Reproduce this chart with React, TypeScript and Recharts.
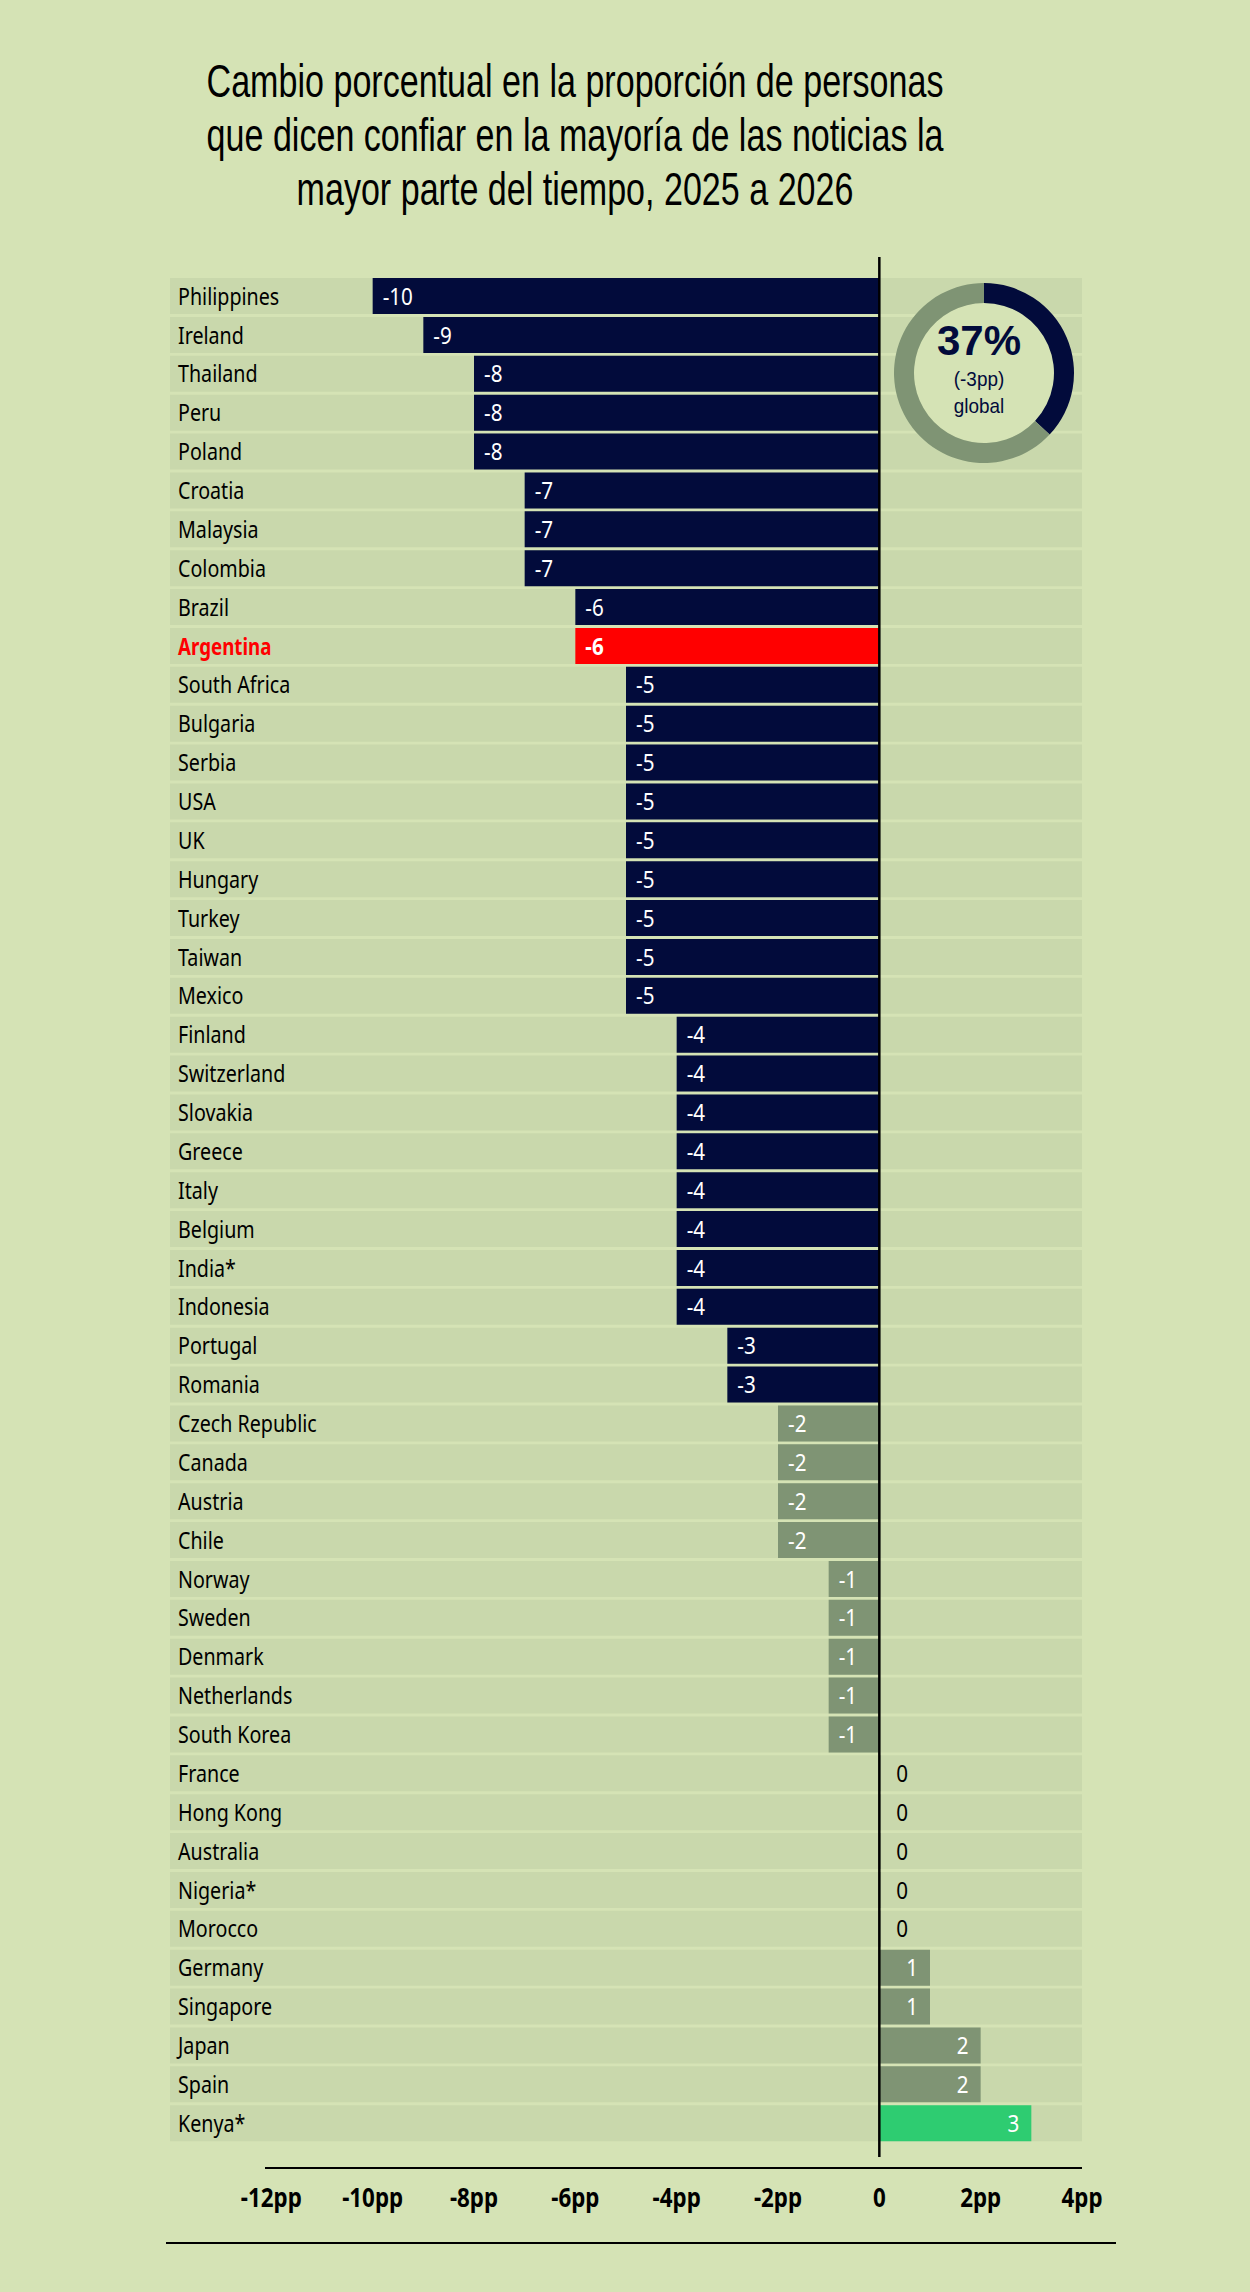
import React from 'react';
import { BarChart, Bar, XAxis, YAxis, Cell, LabelList, ReferenceLine, PieChart, Pie } from 'recharts';

const countries = [
  'Philippines', 'Ireland', 'Thailand', 'Peru', 'Poland', 'Croatia', 'Malaysia', 'Colombia', 'Brazil', 'Argentina',
  'South Africa', 'Bulgaria', 'Serbia', 'USA', 'UK', 'Hungary', 'Turkey', 'Taiwan', 'Mexico',
  'Finland', 'Switzerland', 'Slovakia', 'Greece', 'Italy', 'Belgium', 'India*', 'Indonesia',
  'Portugal', 'Romania', 'Czech Republic', 'Canada', 'Austria', 'Chile',
  'Norway', 'Sweden', 'Denmark', 'Netherlands', 'South Korea',
  'France', 'Hong Kong', 'Australia', 'Nigeria*', 'Morocco',
  'Germany', 'Singapore', 'Japan', 'Spain', 'Kenya*',
];
const changes = [
  -10, -9, -8, -8, -8, -7, -7, -7, -6, -6,
  -5, -5, -5, -5, -5, -5, -5, -5, -5,
  -4, -4, -4, -4, -4, -4, -4, -4,
  -3, -3, -2, -2, -2, -2,
  -1, -1, -1, -1, -1,
  0, 0, 0, 0, 0,
  1, 1, 2, 2, 3,
];
const xTicks = [-12, -10, -8, -6, -4, -2, 0, 2, 4];
const highlight = 'Argentina';
const globalShare = [37, 63];
const globalValue = '37%';
const globalChange = '(-3pp)';
const globalWord = 'global';
const title = [
  'Cambio porcentual en la proporción de personas',
  'que dicen confiar en la mayoría de las noticias la',
  'mayor parte del tiempo, 2025 a 2026',
];

const BG = '#d5e3b5';
const BAND = '#c9d8ac';
const NAVY = '#020b3b';
const GREY = '#7f9474';
const GREEN = '#2ecc71';
const RED = '#ff0000';
const FONT = "'Noto Sans', 'Open Sans', sans-serif";
const TFONT = "'Liberation Sans', Arial, sans-serif";
const MARGIN = { top: 257, right: 168, bottom: 75, left: 170 };

const data = countries.map((c, i) => ({ country: c, value: changes[i] }));
const pieData = globalShare.map((v, i) => ({ name: i === 0 ? 'trust' : 'rest', value: v }));

const colorFor = (c: string, v: number) => {
  if (c === highlight) return RED;
  if (v >= 3) return GREEN;
  if (v <= -3) return NAVY;
  return GREY;
};

const CText = ({ x, y, sx, children, ...rest }: any) => (
  <text transform={`translate(${x} ${y}) scale(${sx} 1)`} x={0} y={0} fontFamily={FONT} {...rest}>{children}</text>
);

const CountryLabel = (props: any) => {
  const { y, height, value } = props;
  const hi = value === highlight;
  return (
    <CText x={MARGIN.left + 8} y={y + height / 2} sx={hi ? 0.78 : 0.82} dy="0.36em" textAnchor="start" fontSize={24}
      fontWeight={hi ? 700 : 400} fill={hi ? RED : '#000'}>{value}</CText>
  );
};

const PPTick = (props: any) => {
  const { x, y, payload } = props;
  const v = payload.value;
  return (
    <CText x={x} y={y + 41} sx={0.86} dy="0.36em" textAnchor="middle" fontSize={26}
      fontWeight={700} fill="#000">{v === 0 ? '0' : `${v}pp`}</CText>
  );
};

const ValueLabel = (props: any) => {
  const { x, y, width, height, value, index } = props;
  const left = Math.min(x, x + width);
  const right = Math.max(x, x + width);
  const hi = countries[index] === highlight;
  let tx = left + 10;
  let anchor = 'start';
  let fill = '#fff';
  if (value > 0) { tx = right - 12; anchor = 'end'; }
  else if (value === 0) { tx = right + 16; fill = '#000'; }
  return (
    <CText x={tx} y={y + height / 2} sx={0.86} dy="0.36em" textAnchor={anchor} fontSize={24}
      fontWeight={hi ? 700 : 400} fill={fill}>{String(value)}</CText>
  );
};

const donutText = (top: number, size: number, weight: number, sx: number, txt: string) => (
  <div style={{ position: 'absolute', left: 879, top, width: 200, textAlign: 'center', fontFamily: TFONT,
    fontSize: size, fontWeight: weight, lineHeight: `${Math.round(size * 1.117)}px`, color: NAVY,
    whiteSpace: 'nowrap', transform: `scaleX(${sx})`, transformOrigin: 'center' }}>{txt}</div>
);

export default function App() {
  return (
    <div style={{ position: 'relative', width: 1250, height: 2292, background: BG, overflow: 'hidden' }}>
      <style>{`body{margin:0;background:${BG};}`}</style>
      <div style={{ position: 'absolute', left: -25, top: 54, width: 1200, textAlign: 'center', fontFamily: TFONT, fontSize: 47, lineHeight: '54px', color: '#000' }}>
        {title.map((t) => (
          <div key={t} style={{ whiteSpace: 'nowrap', transform: 'scaleX(0.725)', transformOrigin: 'center' }}>{t}</div>
        ))}
      </div>
      <div style={{ position: 'absolute', left: 0, top: 0 }}>
        <BarChart width={1250} height={2292} data={data} layout="vertical" margin={MARGIN}>
          <XAxis type="number" domain={[-14, 4]} ticks={xTicks} interval={0} allowDataOverflow
            axisLine={false} tickLine={false} tickSize={0} tickMargin={0} height={60} tick={<PPTick />} />
          <YAxis type="category" dataKey="country" width={0} axisLine={false} tickLine={false}
            tick={false} interval={0} padding={{ top: 20, bottom: 14 }} />
          <Bar dataKey="value" barSize={36} background={{ fill: BAND }} isAnimationActive={false}
            minPointSize={(v: number) => (v === 0 ? 1 : 0)}>
            {data.map((d) => <Cell key={d.country} fill={colorFor(d.country, d.value)} />)}
            <LabelList dataKey="value" content={<ValueLabel />} />
            <LabelList dataKey="country" content={<CountryLabel />} />
          </Bar>
          <ReferenceLine x={0} stroke="#000" strokeWidth={2.5} />
        </BarChart>
      </div>
      <div style={{ position: 'absolute', left: 879, top: 268 }}>
        <PieChart width={200} height={200}>
          <Pie data={[{ value: 1 }]} dataKey="value" cx={100} cy={100} innerRadius={0} outerRadius={70}
            fill={BG} stroke="none" isAnimationActive={false} />
          <Pie data={pieData} dataKey="value" cx={100} cy={100} innerRadius={70} outerRadius={90}
            startAngle={90} endAngle={-270} stroke="none" isAnimationActive={false}>
            <Cell fill={NAVY} />
            <Cell fill={GREY} />
          </Pie>
        </PieChart>
      </div>
      {donutText(317, 42, 700, 1.0, globalValue)}
      {donutText(367, 21, 400, 0.9, globalChange)}
      {donutText(394, 21, 400, 0.9, globalWord)}
      <div style={{ position: 'absolute', left: 265, top: 2167, width: 817, height: 2, background: '#000' }} />
      <div style={{ position: 'absolute', left: 166, top: 2242, width: 950, height: 2, background: '#000' }} />
    </div>
  );
}
